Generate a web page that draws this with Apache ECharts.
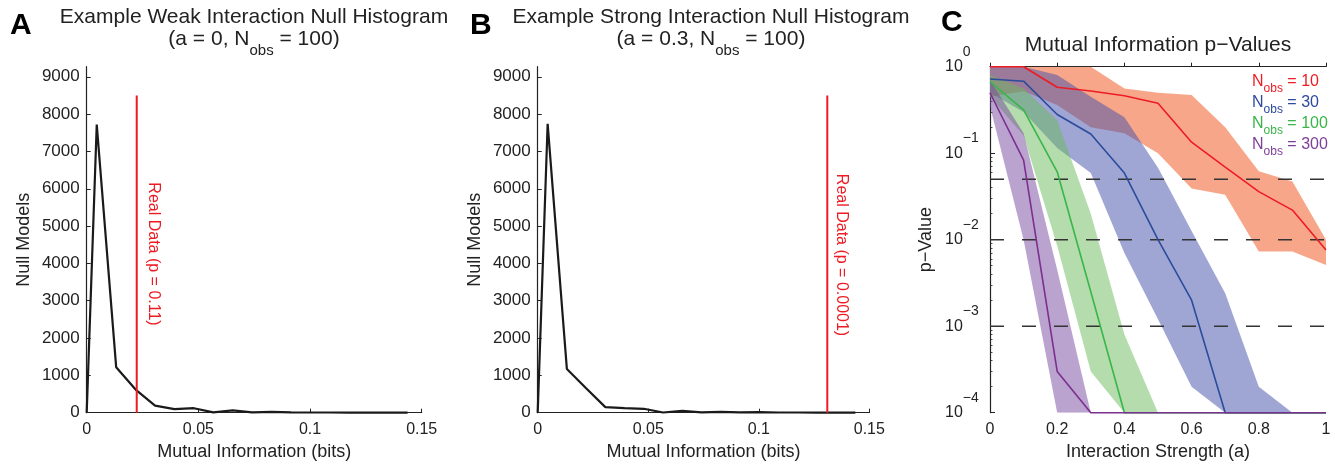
<!DOCTYPE html>
<html>
<head>
<meta charset="utf-8">
<script src="https://cdn.jsdelivr.net/npm/echarts@6/dist/echarts.min.js"></script>
<style>
  html, body { margin: 0; padding: 0; background: #ffffff; }
  #chart { width: 1338px; height: 468px; }
</style>
</head>
<body>
<div id="chart"></div>
<script>
// ---- Panels A and B: null-model histograms of mutual information ----
const binCenters = [0, 0.0045, 0.0132, 0.0219, 0.0306, 0.0393, 0.048, 0.0567, 0.0654,
                    0.0741, 0.0828, 0.0915, 0.1002, 0.1089, 0.1176, 0.1263, 0.135, 0.1437];
const countsWeak   = [0, 7720, 1220, 620, 190, 95, 120, 10, 60, 10, 20, 8, 5, 5, 3, 3, 5, 0];
const countsStrong = [0, 7740, 1170, 655, 150, 125, 105, 5, 50, 10, 20, 10, 15, 5, 5, 3, 3, 0];
const realWeak = 0.0224;      // observed MI, a = 0
const realStrong = 0.131;     // observed MI, a = 0.3
const realLineTop = 8500;
const countTicks = [0, 1000, 2000, 3000, 4000, 5000, 6000, 7000, 8000, 9000];

// ---- Panel C: p-values vs interaction strength (median and spread) ----
const aStrength = [0, 0.1, 0.2, 0.3, 0.4, 0.5, 0.6, 0.7, 0.8, 0.9, 1.0];
const p10      = [1.0, 1.0, 0.578, 0.524, 0.462, 0.378, 0.134, 0.069, 0.036, 0.022, 0.0076];
const p10Upper = [1.0, 1.0, 1.0, 1.0, 0.56, 0.50, 0.47, 0.20, 0.062, 0.047, 0.010];
const p10Lower = [0.45, 0.52, 0.36, 0.20, 0.17, 0.10, 0.039, 0.033, 0.0073, 0.0073, 0.0051];
const p30      = [0.72, 0.68, 0.28, 0.167, 0.059, 0.010, 0.0020, 1e-4, 1e-4, 1e-4, 1e-4];
const p30Upper = [1.0, 1.0, 0.80, 0.45, 0.26, 0.068, 0.0126, 0.0024, 0.0002, 1e-4, 1e-4];
const p30Lower = [0.50, 0.30, 0.115, 0.059, 0.007, 0.0012, 0.0002, 1e-4, 1e-4, 1e-4, 1e-4];
const p100      = [0.67, 0.316, 0.061, 0.0025, 1e-4, 1e-4, 1e-4, 1e-4, 1e-4, 1e-4, 1e-4];
const p100Upper = [0.80, 0.56, 0.24, 0.020, 0.0008, 1e-4, 1e-4, 1e-4, 1e-4, 1e-4, 1e-4];
const p100Lower = [0.45, 0.16, 0.0085, 0.0003, 1e-4, 1e-4, 1e-4, 1e-4, 1e-4, 1e-4, 1e-4];
const p300      = [0.50, 0.083, 0.0003, 1e-4, 1e-4, 1e-4, 1e-4, 1e-4, 1e-4, 1e-4, 1e-4];
const p300Upper = [0.70, 0.17, 0.0045, 1e-4, 1e-4, 1e-4, 1e-4, 1e-4, 1e-4, 1e-4, 1e-4];
const p300Lower = [0.35, 0.010, 1e-4, 1e-4, 1e-4, 1e-4, 1e-4, 1e-4, 1e-4, 1e-4, 1e-4];
const thresholds = [0.05, 0.01, 0.001];
const minorPTicks = [2e-4, 3e-4, 4e-4, 5e-4, 6e-4, 7e-4, 8e-4, 9e-4,
                     2e-3, 3e-3, 4e-3, 5e-3, 6e-3, 7e-3, 8e-3, 9e-3,
                     2e-2, 3e-2, 4e-2, 5e-2, 6e-2, 7e-2, 8e-2, 9e-2,
                     0.2, 0.3, 0.4, 0.5, 0.6, 0.7, 0.8, 0.9];

const FONT = '"Liberation Sans", Arial, Helvetica, sans-serif';
const INK = '#222222';
const RED = '#ed1c24';

const axisCommon = {
  axisLine: { lineStyle: { color: INK, width: 1.2 } },
  axisTick: { inside: true, length: 4, lineStyle: { color: INK, width: 1 } },
  axisLabel: { color: INK, fontSize: 16, fontFamily: FONT },
  splitLine: { show: false },
  nameTextStyle: { color: INK, fontSize: 18, fontFamily: FONT }
};

function histXAxis(gridIndex) {
  return Object.assign({}, axisCommon, {
    type: 'value', gridIndex, min: 0, max: 0.15, interval: 0.05,
    name: 'Mutual Information (bits)', nameLocation: 'middle', nameGap: 29,
    axisLabel: Object.assign({}, axisCommon.axisLabel, { margin: 9 })
  });
}
function histYAxis(gridIndex) {
  return Object.assign({}, axisCommon, {
    type: 'value', gridIndex, min: 0, max: 9270,
    name: 'Null Models', nameLocation: 'middle', nameGap: 54, nameRotate: 90,
    axisTick: Object.assign({}, axisCommon.axisTick, { customValues: countTicks }),
    axisLabel: Object.assign({}, axisCommon.axisLabel, {
      customValues: countTicks, margin: 7, fontSize: 17, formatter: (v) => String(v)
    })
  });
}

function pairs(xs, ys) { return xs.map((x, i) => [x, ys[i]]); }

function histSeries(axisIndex, counts) {
  return {
    type: 'line', xAxisIndex: axisIndex, yAxisIndex: axisIndex,
    data: pairs(binCenters, counts), symbol: 'none', clip: false, z: 3,
    lineStyle: { color: '#1a1a1a', width: 2.2 }, silent: true
  };
}
function realSeries(axisIndex, x) {
  return {
    type: 'line', xAxisIndex: axisIndex, yAxisIndex: axisIndex,
    data: [[x, 0], [x, realLineTop]], symbol: 'none', z: 4,
    lineStyle: { color: RED, width: 2 }, silent: true
  };
}

// shaded spread between lower and upper p-value for one sample size
function bandSeries(lower, upper, color, opacity, z) {
  return {
    type: 'custom', xAxisIndex: 2, yAxisIndex: 2, z, silent: true, clip: true,
    data: aStrength.map((a, i) => [a, lower[i], upper[i]]),
    encode: { x: 0, y: [1, 2] },
    renderItem(params, api) {
      if (params.dataIndex !== 0) return null;
      const pts = [];
      for (let i = 0; i < aStrength.length; i++) pts.push(api.coord([aStrength[i], upper[i]]));
      for (let i = aStrength.length - 1; i >= 0; i--) pts.push(api.coord([aStrength[i], lower[i]]));
      return { type: 'polygon', shape: { points: pts }, style: { fill: color, opacity } };
    }
  };
}
function pSeries(values, color) {
  return {
    type: 'line', xAxisIndex: 2, yAxisIndex: 2, data: pairs(aStrength, values),
    symbol: 'none', clip: false, z: 6, silent: true,
    lineStyle: { color, width: 1.6 }
  };
}
function thresholdSeries(p) {
  return {
    type: 'line', xAxisIndex: 2, yAxisIndex: 2, data: [[0, p], [1, p]],
    symbol: 'none', z: 5, silent: true,
    lineStyle: { color: '#333333', width: 1.4, type: [14, 18] }
  };
}

const expLabel = (v) => {
  const e = Math.round(Math.log10(v));
  return '{b|10}{e|' + (e === 0 ? '0' : '\u2212' + (-e)) + '}';
};

function titleText(x, y, line1, line2a, line2b) {
  return {
    type: 'text', x, y, silent: true,
    style: {
      text: '{t|' + line1 + '}\n{t|' + line2a + '}{s|obs}{t|' + line2b + '}',
      align: 'center', verticalAlign: 'top', fill: INK, font: '21px ' + FONT,
      rich: {
        t: { fontSize: 21, lineHeight: 22, fontFamily: FONT, fill: INK, verticalAlign: 'top' },
        s: { fontSize: 15, lineHeight: 15, fontFamily: FONT, fill: INK, verticalAlign: 'top', padding: [14, 0, 0, 0] }
      }
    }
  };
}
function letter(x, y, ch) {
  return { type: 'text', x, y, silent: true,
    style: { text: ch, font: 'bold 30px ' + FONT, fill: '#000000', verticalAlign: 'top' } };
}
function legendRow(y, label, color) {
  return {
    type: 'text', x: 1252, y, silent: true,
    style: {
      text: '{n|N}{s|obs}{n| = ' + label + '}', verticalAlign: 'top', fill: color, font: '16px ' + FONT,
      rich: {
        n: { fontSize: 16, lineHeight: 17, fontFamily: FONT, fill: color, verticalAlign: 'top' },
        s: { fontSize: 12, lineHeight: 12, fontFamily: FONT, fill: color, verticalAlign: 'top', padding: [9, 0, 0, 0] }
      }
    }
  };
}
function realLabel(x, y, text) {
  return { type: 'text', x, y, rotation: -Math.PI / 2, silent: true,
    style: { text, font: '16px ' + FONT, fill: RED, align: 'center', verticalAlign: 'middle' } };
}

const option = {
  animation: false,
  backgroundColor: '#ffffff',
  grid: [
    { left: 86.7, top: 66.7, width: 335, height: 346 },
    { left: 537.7, top: 66.7, width: 331.6, height: 346 },
    { left: 990, top: 66.7, width: 336, height: 346 }
  ],
  xAxis: [
    histXAxis(0),
    histXAxis(1),
    Object.assign({}, axisCommon, {
      type: 'value', gridIndex: 2, min: 0, max: 1, interval: 0.2,
      name: 'Interaction Strength (a)', nameLocation: 'middle', nameGap: 29,
      axisLabel: Object.assign({}, axisCommon.axisLabel, { margin: 9 })
    })
  ],
  yAxis: [
    histYAxis(0),
    histYAxis(1),
    Object.assign({}, axisCommon, {
      type: 'log', logBase: 10, gridIndex: 2, min: 1e-4, max: 1,
      name: 'p\u2212Value', nameLocation: 'middle', nameGap: 55, nameRotate: 90,
      axisTick: Object.assign({}, axisCommon.axisTick, { length: 5 }),
      axisLabel: {
        color: INK, fontFamily: FONT, align: 'left', margin: 45,
        formatter: expLabel,
        rich: {
          b: { fontSize: 16, lineHeight: 44, fontFamily: FONT, color: INK },
          e: { fontSize: 14, lineHeight: 14, fontFamily: FONT, color: INK, verticalAlign: 'top' }
        }
      }
    }),
    {
      // minor log ticks (2..9 x 10^n), placed on an exponent scale
      type: 'value', gridIndex: 2, min: -4, max: 0, position: 'left', offset: 0,
      axisLine: { show: false }, axisLabel: { show: false }, splitLine: { show: false },
      axisTick: { show: true, inside: true, length: 2.5, lineStyle: { color: INK, width: 0.8 },
                  customValues: minorPTicks.map(Math.log10) }
    }
  ],
  series: [
    histSeries(0, countsWeak),
    realSeries(0, realWeak),
    histSeries(1, countsStrong),
    realSeries(1, realStrong),
    bandSeries(p10Lower, p10Upper, '#f8a68a', 1, 1),
    bandSeries(p30Lower, p30Upper, '#404eaa', 0.5, 2),
    bandSeries(p100Lower, p100Upper, '#6bb95b', 0.5, 3),
    bandSeries(p300Lower, p300Upper, '#7747a0', 0.5, 4),
    thresholdSeries(thresholds[0]),
    thresholdSeries(thresholds[1]),
    thresholdSeries(thresholds[2]),
    pSeries(p10, '#ed1c24'),
    pSeries(p30, '#2b4c9c'),
    pSeries(p100, '#39b54a'),
    pSeries(p300, '#7b2f8e')
  ],
  graphic: [
    letter(10, 11, 'A'),
    letter(470, 11, 'B'),
    letter(941, 8, 'C'),
    titleText(254, 7, 'Example Weak Interaction Null Histogram', '(a = 0, N', ' = 100)'),
    titleText(711, 7, 'Example Strong Interaction Null Histogram', '(a = 0.3, N', ' = 100)'),
    { type: 'text', x: 1158, y: 35, silent: true,
      style: { text: 'Mutual Information p\u2212Values', font: '21px ' + FONT, fill: INK,
               align: 'center', verticalAlign: 'top' } },
    realLabel(153, 254, 'Real Data (p = 0.11)'),
    realLabel(841, 255, 'Real Data (p = 0.0001)'),
    legendRow(74, '10', '#ed1c24'),
    legendRow(95, '30', '#2e4a9e'),
    legendRow(116, '100', '#3ab54a'),
    legendRow(137, '300', '#7e3f98')
  ]
};

const chart = echarts.init(document.getElementById('chart'), null, { renderer: 'canvas' });
chart.setOption(option);
</script>
</body>
</html>
